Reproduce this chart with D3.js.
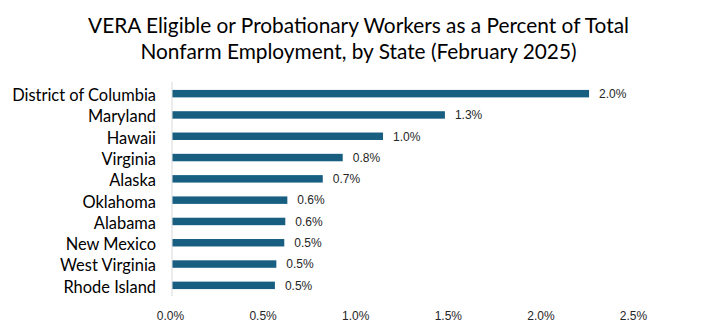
<!DOCTYPE html>
<html>
<head>
<meta charset="utf-8">
<script src="https://cdn.jsdelivr.net/npm/d3@7"></script>
<style>
  html, body { margin: 0; padding: 0; background: #fff; }
  svg { display: block; }
</style>
</head>
<body>
<svg id="chart" width="713" height="332"></svg>
<script>
const states = ["District of Columbia", "Maryland", "Hawaii", "Virginia", "Alaska",
                "Oklahoma", "Alabama", "New Mexico", "West Virginia", "Rhode Island"];
const values = [2.046, 1.338, 1.034, 0.836, 0.738, 0.564, 0.554, 0.549, 0.510, 0.503];
const tickValues = [0, 0.5, 1.0, 1.5, 2.0, 2.5];
const titleLines = ["VERA Eligible or Probationary Workers as a Percent of Total",
                    "Nonfarm Employment, by State (February 2025)"];

const data = states.map((s, i) => ({ state: s, value: values[i] }));
const svg = d3.select("#chart");
const pct = v => d3.format(".1%")(v / 100);

// Scales
const x = d3.scaleLinear().domain([0, 2.5]).range([172.5, 681.5]);
const xTicks = d3.scaleLinear().domain([0, 2.5]).range([170, 633]);
const y = d3.scaleBand().domain(states).range([83, 296]).paddingInner(0.65).paddingOuter(0.325);

// Title
const title = svg.append("g");
const tfont = "Lato, 'Open Sans', sans-serif";
title.selectAll("text").data(titleLines).join("text")
  .attr("x", 358.5)
  .attr("y", (d, i) => 32.7 + i * 26.6)
  .attr("text-anchor", "middle")
  .attr("font-family", tfont)
  .attr("font-size", 21)
  .attr("fill", "#000")
  .text(d => d);
// fit first line width to ~541px
{
  const w = title.select("text").node().getComputedTextLength();
  const fs = 21 * 541 / w;
  title.selectAll("text").attr("font-size", fs);
}

// Vertical axis line
svg.append("line")
  .attr("x1", 172).attr("x2", 172)
  .attr("y1", 82).attr("y2", 296)
  .attr("stroke", "#d9d9d9").attr("stroke-width", 1);

// Bars
svg.append("g").selectAll("rect").data(data).join("rect")
  .attr("x", x(0))
  .attr("y", d => y(d.state))
  .attr("width", d => x(d.value) - x(0))
  .attr("height", y.bandwidth())
  .attr("fill", "#175e80");

// Data labels
svg.append("g").selectAll("text").data(data).join("text")
  .attr("x", d => x(d.value) + 10)
  .attr("y", d => y(d.state) + y.bandwidth() / 2)
  .attr("dy", "0.36em")
  .attr("font-family", "'Liberation Sans', Arial, sans-serif")
  .attr("font-size", 12)
  .attr("fill", "#262626")
  .text(d => pct(d.value));

// Category labels
const cat = svg.append("g").selectAll("text").data(states).join("text")
  .attr("x", 156)
  .attr("y", d => y(d) + y.bandwidth() / 2)
  .attr("dy", "0.45em")
  .attr("text-anchor", "end")
  .attr("font-family", tfont)
  .attr("font-size", 15)
  .attr("fill", "#000")
  .text(d => d);
{
  const w = cat.filter((d, i) => i === 0).node().getComputedTextLength();
  cat.attr("font-size", 15 * 144 / w);
}

// Bottom tick labels
const axis = d3.axisBottom(xTicks).tickValues(tickValues).tickSize(0).tickFormat(d => d3.format(".1%")(d / 100));
const gAxis = svg.append("g").attr("transform", "translate(0,319.5)").call(axis);
gAxis.select(".domain").remove();
gAxis.selectAll("text")
  .attr("y", 0).attr("dy", null)
  .attr("font-family", "'Liberation Sans', Arial, sans-serif")
  .attr("font-size", 12)
  .attr("fill", "#262626");
</script>
</body>
</html>
